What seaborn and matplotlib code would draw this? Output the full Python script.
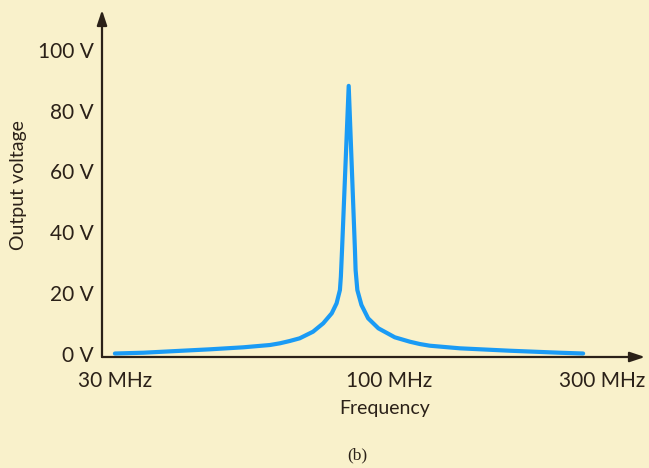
import numpy as np
import pandas as pd
import seaborn as sns
import matplotlib
matplotlib.use('Agg')
import matplotlib.pyplot as plt
from matplotlib.transforms import ScaledTranslation

# ── data ──
freq_mhz = [30.0, 34.4, 40.3, 47.3, 55.5, 63.1, 66.2, 69.4, 72.8, 77.6, 81.5, 84.9, 86.9, 88.3, 88.7, 89.2,
            92.1,
            94.9, 95.2, 96.0, 97.9, 101.1, 106.2, 114.9, 123.5, 129.5, 135.9, 157.0, 199.3, 253.2, 283.6]
volts = [0.0, 0.26, 0.82, 1.38, 2.04, 2.80, 3.36, 4.12, 5.01, 7.18, 9.95, 13.25, 16.54, 20.92, 25.3, 34.1,
         88.2,
         34.1, 27.5, 20.9, 16.0, 11.6, 8.3, 5.34, 3.89, 3.13, 2.57, 1.71, 0.92, 0.26, 0.0]
x_ticks = [30, 100, 300]
x_tick_labels = ['30 MHz', '100 MHz', '300 MHz']
y_ticks = [0, 20, 40, 60, 80, 100]
y_tick_labels = [f'{v} V' for v in y_ticks]

BG = '#F9F1CB'
INK = '#2B2118'
BLUE = '#1A9BF5'

sns.set_style('white')
plt.rcParams['font.family'] = ['Lato', 'DejaVu Sans']

df = pd.DataFrame({'f': freq_mhz, 'v': volts})

fig = plt.figure(figsize=(6.49, 4.68), dpi=100, facecolor=BG)
ax = fig.add_axes([102/649, 111/468, 543/649, 347/468], facecolor=BG)

sns.lineplot(data=df, x='f', y='v', ax=ax, color=BLUE, lw=3.0, sort=False,
             solid_capstyle='round', solid_joinstyle='round')
ax.set_xscale('log')
ax.set_xlim(28.2, 381.6)
ax.set_ylim(-1.15, 113.2)

for s in ax.spines.values():
    s.set_visible(False)

# axis arrows
arrow = dict(arrowstyle='-|>,head_length=0.9,head_width=0.3', color=INK, lw=1.6,
             shrinkA=0, shrinkB=0)
ax.annotate('', xy=(0, 1), xytext=(0, 0), xycoords='axes fraction', arrowprops=arrow)
ax.annotate('', xy=(1, 0), xytext=(0, 0), xycoords='axes fraction', arrowprops=arrow)

ax.minorticks_off()
ax.set_xticks(x_ticks)
ax.set_xticklabels(x_tick_labels)
ax.set_yticks(y_ticks)
ax.set_yticklabels(y_tick_labels)
ax.tick_params(length=0, labelsize=15, colors=INK, pad=10)
ax.tick_params(axis='y', pad=6)

# nudge x tick labels to where the reference places them
for lab, dx in zip(ax.get_xticklabels(), [0, 23, 7]):
    lab.set_transform(lab.get_transform() + ScaledTranslation(dx/100, 0, fig.dpi_scale_trans))

ax.set_xlabel('Frequency', fontsize=14, color=INK)
ax.set_ylabel('Output voltage', fontsize=14, color=INK)
ax.xaxis.set_label_coords(0.521, -0.147)
ax.yaxis.set_label_coords(-0.153, 0.496)
ax.xaxis.label.set_va('center')
ax.yaxis.label.set_va('center')

fig.text(357/649, 1 - 455/468, '(b)', family='Liberation Serif', fontsize=12.5,
         color=INK, ha='center', va='center')

fig.savefig('out.png', dpi=100, facecolor=BG)
